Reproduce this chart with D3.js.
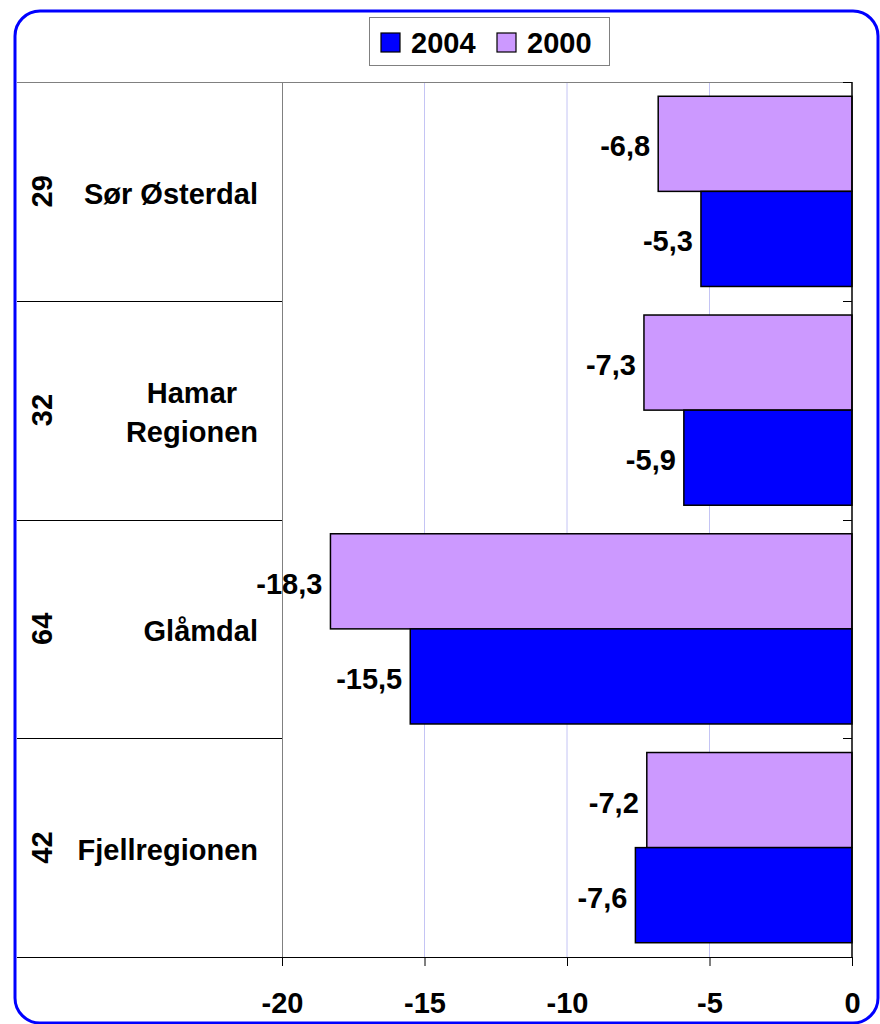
<!DOCTYPE html>
<html>
<head>
<meta charset="utf-8">
<script src="https://cdn.jsdelivr.net/npm/d3@7"></script>
<style>
  body { margin: 0; background: #fff; }
  text { font-family: "Liberation Sans", Arial, sans-serif; font-weight: bold; fill: #000; }
</style>
</head>
<body>
<div id="chart"></div>
<script>
// Data
var categories = ["Sør Østerdal", "Hamar Regionen", "Glåmdal", "Fjellregionen"];
var counts = [29, 32, 64, 42];
var series = ["2000", "2004"];
var values2000 = [-6.8, -7.3, -18.3, -7.2];
var values2004 = [-5.3, -5.9, -15.5, -7.6];
var tickValues = [-20, -15, -10, -5, 0];
var legendOrder = ["2004", "2000"];

var colors = { "2004": "#0000ff", "2000": "#cc99ff" };

// Dimensions
var width = 880, height = 1024,
    plot = { left: 282, right: 852, top: 82, bottom: 957 },
    labelLeft = 17,
    fontSize = 29;

var svg = d3.select("#chart").append("svg")
    .attr("width", width)
    .attr("height", height);

// Rounded blue frame
svg.append("rect")
    .attr("x", 15).attr("y", 11)
    .attr("width", 863).attr("height", 1012)
    .attr("rx", 25).attr("ry", 25)
    .style("fill", "#fff")
    .style("stroke", "#0000ff")
    .style("stroke-width", 3);

// Scales
var x = d3.scaleLinear().domain([-20, 0]).range([plot.left, plot.right]);
var y = d3.scaleBand().domain(categories).range([plot.top, plot.bottom]);
var y1 = d3.scaleBand().domain(series).range([0, y.bandwidth()]).paddingInner(0).paddingOuter(0.15);

var rows = categories.map(function(c, i) {
    return { name: c, count: counts[i], vals: [
        { key: "2000", value: values2000[i] },
        { key: "2004", value: values2004[i] }
    ] };
});

// Gridlines
svg.append("g").selectAll("line")
    .data(tickValues.filter(function(t) { return t > -20 && t < 0; }))
    .enter().append("line")
    .attr("x1", function(d) { return x(d); }).attr("x2", function(d) { return x(d); })
    .attr("y1", plot.top).attr("y2", plot.bottom)
    .style("stroke", "#c4c4f4").style("stroke-width", 1);

// Plot area border (top and left) in gray
svg.append("line")
    .attr("x1", labelLeft).attr("x2", plot.right)
    .attr("y1", plot.top + 0.5).attr("y2", plot.top + 0.5)
    .style("stroke", "#808080");
svg.append("line")
    .attr("x1", plot.left + 0.5).attr("x2", plot.left + 0.5)
    .attr("y1", plot.top).attr("y2", plot.bottom)
    .style("stroke", "#808080");

// Row separators in the label area
var bounds = categories.slice(1).map(function(c) { return y(c); }).concat([plot.bottom]);
svg.append("g").selectAll("line")
    .data(bounds)
    .enter().append("line")
    .attr("x1", labelLeft).attr("x2", plot.left)
    .attr("y1", function(d) { return Math.round(d) + 0.5; })
    .attr("y2", function(d) { return Math.round(d) + 0.5; })
    .style("stroke", "#000");

// Bars
var groups = svg.append("g").selectAll("g.row")
    .data(rows)
    .enter().append("g")
    .attr("class", "row")
    .attr("transform", function(d) { return "translate(0," + y(d.name) + ")"; });

groups.selectAll("rect")
    .data(function(d) { return d.vals; })
    .enter().append("rect")
    .attr("x", function(d) { return x(d.value); })
    .attr("y", function(d) { return y1(d.key); })
    .attr("width", function(d) { return x(0) - x(d.value); })
    .attr("height", y1.bandwidth())
    .style("fill", function(d) { return colors[d.key]; })
    .style("stroke", "#000")
    .style("stroke-width", 1.5);

// Value labels
groups.selectAll("text.value")
    .data(function(d) { return d.vals; })
    .enter().append("text")
    .attr("class", "value")
    .attr("x", function(d) { return x(d.value) - 8; })
    .attr("y", function(d) { return y1(d.key) + y1.bandwidth() / 2; })
    .attr("dy", "0.43em")
    .attr("text-anchor", "end")
    .style("font-size", fontSize + "px")
    .text(function(d) { return d.value.toFixed(1).replace(".", ","); });

// Category axis on the zero line, ticks pointing inward
svg.append("line")
    .attr("x1", plot.right).attr("x2", plot.right)
    .attr("y1", plot.top).attr("y2", plot.bottom)
    .style("stroke", "#000").style("stroke-width", 1.5);
svg.append("g").selectAll("line")
    .data([plot.top].concat(bounds))
    .enter().append("line")
    .attr("x1", plot.right - 9).attr("x2", plot.right)
    .attr("y1", function(d) { return Math.round(d) + 0.5; })
    .attr("y2", function(d) { return Math.round(d) + 0.5; })
    .style("stroke", "#000");

// Value axis
var xAxis = svg.append("g")
    .attr("transform", "translate(0," + plot.bottom + ")")
    .call(d3.axisBottom(x).tickValues(tickValues).tickSize(9).tickPadding(26)
        .tickFormat(function(d) { return String(d); }));
xAxis.select(".domain").remove();
xAxis.selectAll("text")
    .style("font-size", fontSize + "px")
    .style("font-family", "'Liberation Sans', Arial, sans-serif")
    .style("font-weight", "bold")
    .attr("fill", "#000");
xAxis.selectAll(".tick line").style("stroke", "#000");
svg.append("line")
    .attr("x1", labelLeft).attr("x2", plot.right)
    .attr("y1", plot.bottom + 0.5).attr("y2", plot.bottom + 0.5)
    .style("stroke", "#000");

// Category labels
var labels = svg.append("g").selectAll("g.label")
    .data(rows)
    .enter().append("g")
    .attr("class", "label");

labels.append("text")
    .attr("transform", function(d) {
        return "translate(52," + (y(d.name) + y.bandwidth() / 2) + ") rotate(-90)";
    })
    .attr("text-anchor", "middle")
    .style("font-size", fontSize + "px")
    .text(function(d) { return d.count; });

labels.append("text")
    .attr("class", "name")
    .style("font-size", fontSize + "px")
    .attr("text-anchor", "middle")
    .text(function(d) { return d.name; })
    .call(wrapLabel, 200, 258);

// Legend
var legend = svg.append("g");
legend.append("rect")
    .attr("x", 369.5).attr("y", 17.5)
    .attr("width", 240).attr("height", 48)
    .style("fill", "#fff").style("stroke", "#808080");

var legendX = [381, 497];
var item = legend.selectAll("g.item")
    .data(legendOrder)
    .enter().append("g")
    .attr("class", "item")
    .attr("transform", function(d, i) { return "translate(" + legendX[i] + ",33)"; });
item.append("rect")
    .attr("width", 19).attr("height", 19)
    .style("fill", function(d) { return colors[d]; })
    .style("stroke", "#000").style("stroke-width", 1.2);
item.append("text")
    .attr("x", 30).attr("y", 20)
    .style("font-size", fontSize + "px")
    .text(function(d) { return d; });

// Wrap the names, lines centred inside a block that ends at rightEdge
function wrapLabel(text, maxWidth, rightEdge) {
    text.each(function(d) {
        var text = d3.select(this),
            words = text.text().split(/\s+/).reverse(),
            word,
            lines = [],
            line = [],
            lineHeight = 39,
            cy = y(d.name) + y.bandwidth() / 2;

        text.text(null);
        var probe = text.append("tspan");
        while (word = words.pop()) {
            line.push(word);
            probe.text(line.join(" "));
            if (probe.node().getComputedTextLength() > maxWidth && line.length > 1) {
                line.pop();
                lines.push(line.join(" "));
                line = [word];
            }
        }
        lines.push(line.join(" "));

        var widths = lines.map(function(l) { probe.text(l); return probe.node().getComputedTextLength(); });
        probe.remove();
        var cx = rightEdge - d3.max(widths) / 2,
            y0 = cy - (lines.length - 1) * lineHeight / 2;

        lines.forEach(function(l, k) {
            text.append("tspan")
                .attr("x", cx)
                .attr("y", y0 + k * lineHeight)
                .attr("dy", "0.43em")
                .text(l);
        });
    });
}
</script>
</body>
</html>
